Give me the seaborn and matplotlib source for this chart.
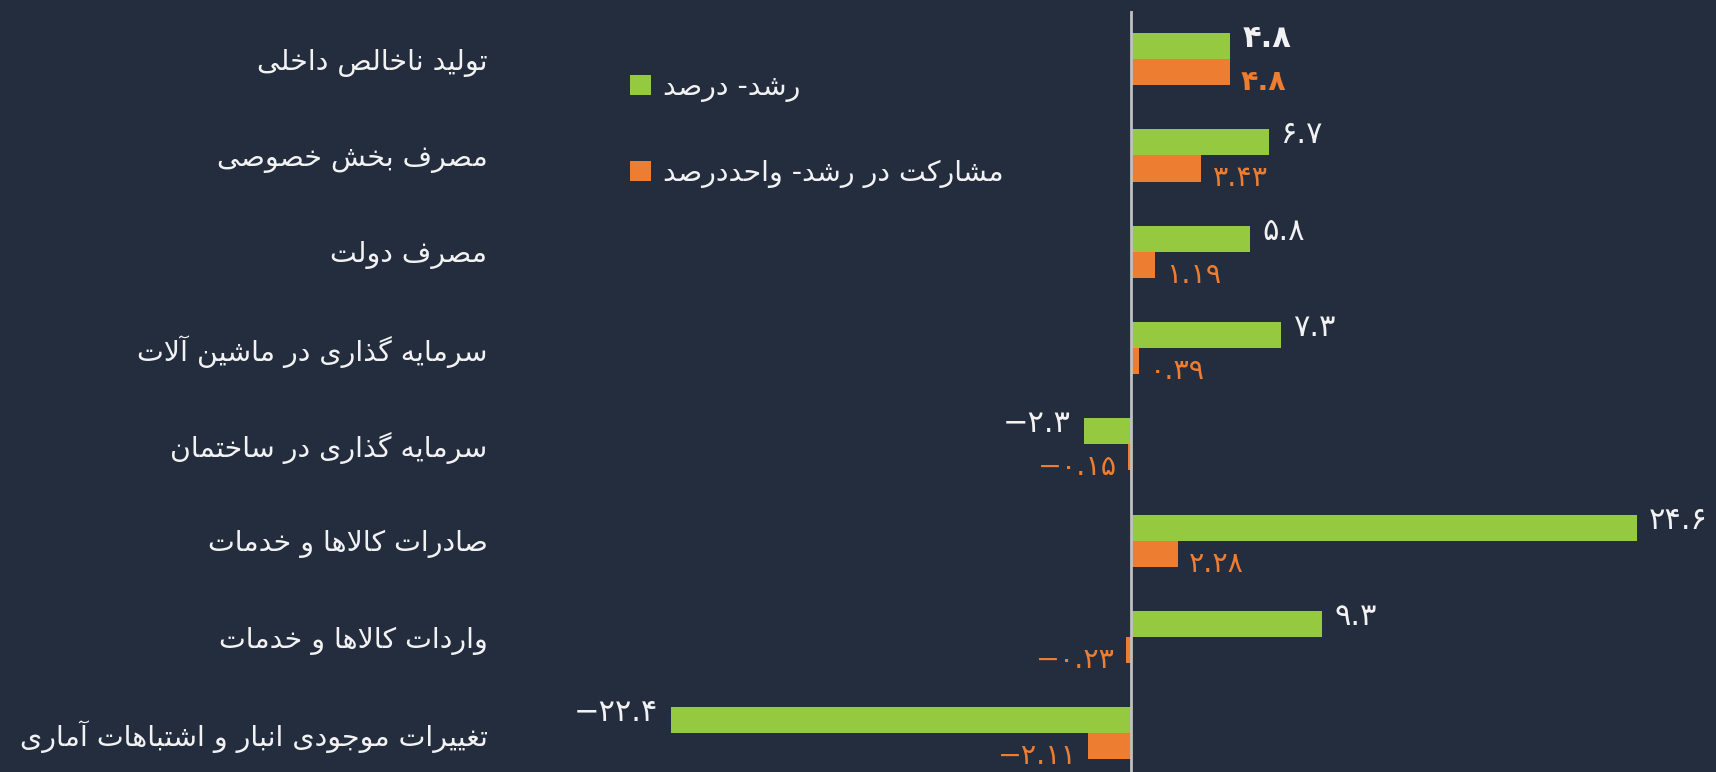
import numpy as np
import pandas as pd
import matplotlib as mpl
mpl.use('Agg')
import matplotlib.pyplot as plt
import seaborn as sns

# ============================================ #
# data
# ============================================ #

categories = ["تولید ناخالص داخلی",
              "مصرف بخش خصوصی",
              "مصرف دولت",
              "سرمایه گذاری در ماشین آلات",
              "سرمایه گذاری در ساختمان",
              "صادرات کالاها و خدمات",
              "واردات کالاها و خدمات",
              "تغییرات موجودی انبار و اشتباهات آماری"]
growth = [4.8, 6.7, 5.8, 7.3, -2.3, 24.6, 9.3, -22.4]          # رشد- درصد
contrib = [4.8, 3.43, 1.19, 0.39, -0.15, 2.28, -0.23, -2.11]    # مشارکت در رشد
series = ["رشد- درصد", "مشارکت در رشد- واحددرصد"]

BG = '#242d3e'
GREEN = '#95c940'
ORANGE = '#ed7d31'
TXT = '#f2f2f2'

# ============================================ #
# tiny persian shaper (matplotlib has no text shaping)
# ============================================ #

# isolated, final, initial, medial
FORMS = {
    'ا': ('\uFE8D', '\uFE8E', None, None),
    'آ': ('\uFE81', '\uFE82', None, None),
    'ب': ('\uFE8F', '\uFE90', '\uFE91', '\uFE92'),
    'پ': ('\uFB56', '\uFB57', '\uFB58', '\uFB59'),
    'ت': ('\uFE95', '\uFE96', '\uFE97', '\uFE98'),
    'ث': ('\uFE99', '\uFE9A', '\uFE9B', '\uFE9C'),
    'ج': ('\uFE9D', '\uFE9E', '\uFE9F', '\uFEA0'),
    'چ': ('\uFB7A', '\uFB7B', '\uFB7C', '\uFB7D'),
    'ح': ('\uFEA1', '\uFEA2', '\uFEA3', '\uFEA4'),
    'خ': ('\uFEA5', '\uFEA6', '\uFEA7', '\uFEA8'),
    'د': ('\uFEA9', '\uFEAA', None, None),
    'ذ': ('\uFEAB', '\uFEAC', None, None),
    'ر': ('\uFEAD', '\uFEAE', None, None),
    'ز': ('\uFEAF', '\uFEB0', None, None),
    'ژ': ('\uFB8A', '\uFB8B', None, None),
    'س': ('\uFEB1', '\uFEB2', '\uFEB3', '\uFEB4'),
    'ش': ('\uFEB5', '\uFEB6', '\uFEB7', '\uFEB8'),
    'ص': ('\uFEB9', '\uFEBA', '\uFEBB', '\uFEBC'),
    'ض': ('\uFEBD', '\uFEBE', '\uFEBF', '\uFEC0'),
    'ط': ('\uFEC1', '\uFEC2', '\uFEC3', '\uFEC4'),
    'ظ': ('\uFEC5', '\uFEC6', '\uFEC7', '\uFEC8'),
    'ع': ('\uFEC9', '\uFECA', '\uFECB', '\uFECC'),
    'غ': ('\uFECD', '\uFECE', '\uFECF', '\uFED0'),
    'ف': ('\uFED1', '\uFED2', '\uFED3', '\uFED4'),
    'ق': ('\uFED5', '\uFED6', '\uFED7', '\uFED8'),
    'ک': ('\uFB8E', '\uFB8F', '\uFB90', '\uFB91'),
    'گ': ('\uFB92', '\uFB93', '\uFB94', '\uFB95'),
    'ل': ('\uFEDD', '\uFEDE', '\uFEDF', '\uFEE0'),
    'م': ('\uFEE1', '\uFEE2', '\uFEE3', '\uFEE4'),
    'ن': ('\uFEE5', '\uFEE6', '\uFEE7', '\uFEE8'),
    'ه': ('\uFEE9', '\uFEEA', '\uFEEB', '\uFEEC'),
    'و': ('\uFEED', '\uFEEE', None, None),
    'ی': ('\uFBFC', '\uFBFD', '\uFBFE', '\uFBFF'),
}
LAM_ALEF = {'ا': ('\uFEFB', '\uFEFC'), 'آ': ('\uFEF5', '\uFEF6')}


def joins_next(c):
    return c in FORMS and FORMS[c][2] is not None


def fa(text):
    chars = list(text)
    n = len(chars)
    res = []
    i = 0
    while i < n:
        c = chars[i]
        prev = chars[i - 1] if i > 0 else None
        cp = prev is not None and joins_next(prev)
        if c == 'ل' and i + 1 < n and chars[i + 1] in LAM_ALEF:
            lig = LAM_ALEF[chars[i + 1]]
            res.append(lig[1] if cp else lig[0])
            i += 2
            continue
        if c not in FORMS:
            res.append(c)
            i += 1
            continue
        nxt = chars[i + 1] if i + 1 < n else None
        cn = joins_next(c) and nxt is not None and nxt in FORMS
        iso, fin, ini, med = FORMS[c]
        if cp and cn:
            g = med
        elif cp:
            g = fin
        elif cn:
            g = ini
        else:
            g = iso
        res.append(g)
        i += 1
    return ''.join(reversed(res))


def fa_num(v):
    s = str(v).translate(str.maketrans('0123456789', '۰۱۲۳۴۵۶۷۸۹'))
    return s.replace('-', '\u2212')


# ============================================ #
# style
# ============================================ #

sns.set_theme(style='white')
plt.rcParams['font.family'] = ['DejaVu Sans']

cats_fa = [fa(c) for c in categories]
series_fa = [fa(s) for s in series]

df = pd.DataFrame({
    'cat': cats_fa * 2,
    'val': growth + contrib,
    'series': [series_fa[0]] * len(cats_fa) + [series_fa[1]] * len(cats_fa),
})

W, H = 1716, 772
fig = plt.figure(figsize=(W / 100, H / 100), dpi=100, facecolor=BG)
ax = fig.add_axes([500 / W, 0, 1 - 500 / W, (H - 11) / H])
ax.set_facecolor(BG)

sns.barplot(data=df, y='cat', x='val', hue='series', orient='h',
            order=cats_fa, hue_order=series_fa,
            palette=[GREEN, ORANGE], saturation=1, width=0.54, gap=0,
            errorbar=None, linewidth=0, edgecolor='none', ax=ax)

px_per_unit = 20.55
ax.set_xlim(-(1131 - 500) / px_per_unit, (W - 1131) / px_per_unit)
ax.set_ylim(7.40, -0.5)

ax.axvline(0, color='#c0c0c0', lw=2, zorder=5)

for s in ax.spines.values():
    s.set_visible(False)
ax.set_xlabel('')
ax.set_ylabel('')
ax.tick_params(left=False, bottom=False, labelbottom=False,
               labelsize=20.5, labelcolor=TXT, pad=3)

# value labels
vals = [growth, contrib]
for k, cont in enumerate(ax.containers[:2]):
    color = TXT if k == 0 else ORANGE
    dy = 5.5 if k == 0 else -7
    pad = 9 if k == 0 else 8
    fs = 22 if k == 0 else 20.5
    for p in cont.patches:
        yc = p.get_y() + p.get_height() / 2
        idx = int(round(yc))
        v = vals[k][idx]
        xend = p.get_x() + p.get_width()
        sign = 1 if v >= 0 else -1
        ax.annotate(fa_num(v), xy=(xend, yc), xytext=(sign * pad, dy),
                    textcoords='offset points', va='center',
                    ha='left' if v >= 0 else 'right',
                    color=color, fontsize=fs,
                    fontweight='bold' if idx == 0 else 'normal',
                    annotation_clip=False)

sns.move_legend(ax, 'upper left', bbox_to_anchor=(630 / W, 1 - 73 / H),
                bbox_transform=fig.transFigure, frameon=False, title=None,
                fontsize=20.5, labelcolor=TXT, handlelength=0.75,
                handleheight=0.75, handletextpad=0.4, labelspacing=2.0,
                borderpad=0, borderaxespad=0)

fig.savefig('out.png', dpi=100, facecolor=BG)
